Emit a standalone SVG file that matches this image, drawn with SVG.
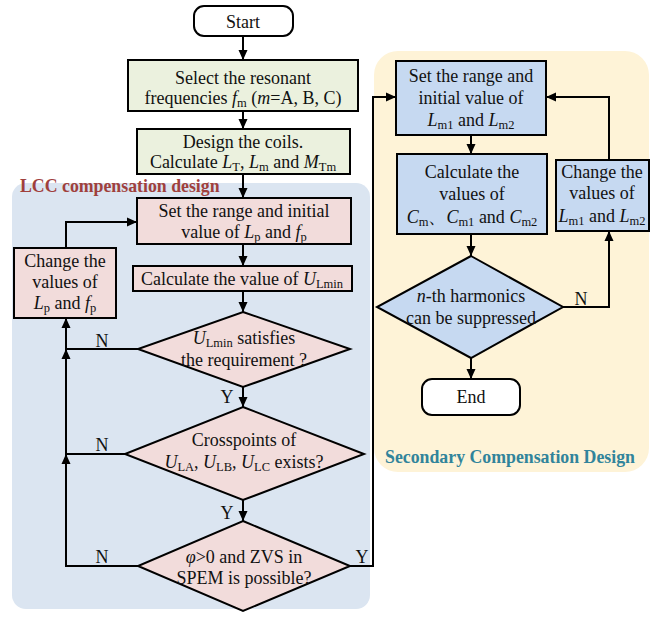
<svg xmlns="http://www.w3.org/2000/svg" width="664" height="618" viewBox="0 0 664 618">
<defs>
<marker id="ah" viewBox="0 0 10 10" refX="10" refY="5" markerWidth="10" markerHeight="10" markerUnits="userSpaceOnUse" orient="auto">
<path d="M0,0.5 L10,5 L0,9.5 Z" fill="#000"/>
</marker>
<style>
text{font-family:"Liberation Serif","Times New Roman",serif;font-size:18px;fill:#111;text-anchor:middle}
.i{font-style:italic}
.s{font-size:12.5px}
.nd{stroke:#000;stroke-width:2}
.g{fill:#ebf1de}
.p{fill:#f2dcdb}
.b{fill:#c6d9f1}
.w{fill:#fff}
.c path{fill:none;stroke:#000;stroke-width:2}
.lbl{font-weight:bold;font-size:17.8px;text-anchor:start}
</style>
</defs>
<rect width="664" height="618" fill="#fff"/>
<g id="panel-lcc">
<rect x="12" y="183" width="358" height="426" rx="14" fill="#dbe5f1"/>
<text class="lbl" x="20" y="192" style="fill:#a0403c">LCC compensation design</text>
</g>
<g id="panel-sec">
<rect x="374" y="51" width="275" height="421" rx="24" fill="#fef3d7"/>
<text class="lbl" x="385" y="463" style="fill:#31849b">Secondary Compensation Design</text>
</g>
<g class="c" id="connectors">
<path d="M243,36 V60" marker-end="url(#ah)"/>
<path d="M243,111 V129" marker-end="url(#ah)"/>
<path d="M243,174 V198" marker-end="url(#ah)"/>
<path d="M243,244 V266" marker-end="url(#ah)"/>
<path d="M243,291 V312" marker-end="url(#ah)"/>
<path d="M243,387 V407" marker-end="url(#ah)"/>
<path d="M243,500 V521" marker-end="url(#ah)"/>
<path d="M138,349 H66"/>
<path d="M125,454 H66"/>
<path d="M138,566 H66 V454" marker-end="url(#ah)"/>
<path d="M66,454 V349" marker-end="url(#ah)"/>
<path d="M66,349 V318" marker-end="url(#ah)"/>
<path d="M66,248 V222 H137" marker-end="url(#ah)"/>
<path d="M350,566 H373 V97 H396" marker-end="url(#ah)"/>
<path d="M471,135 V154" marker-end="url(#ah)"/>
<path d="M471,234 V256" marker-end="url(#ah)"/>
<path d="M471,358 V379" marker-end="url(#ah)"/>
<path d="M563,307 H609 V231" marker-end="url(#ah)"/>
<path d="M609,160 V97 H546" marker-end="url(#ah)"/>
</g>
<g id="labels">
<text x="102" y="347">N</text>
<text x="102" y="451">N</text>
<text x="102" y="563">N</text>
<text x="227" y="403">Y</text>
<text x="227" y="519">Y</text>
<text x="362" y="563">Y</text>
<text x="581" y="305">N</text>
</g>
<g id="start">
<rect class="nd w" x="194" y="6" width="99" height="30" rx="10"/>
<text x="243" y="28">Start</text>
</g>
<g id="select">
<rect class="nd g" x="128" y="60" width="230" height="51"/>
<text x="243" y="84">Select the resonant</text>
<text x="243" y="104">frequencies <tspan class="i">f</tspan><tspan class="s" dy="3">m</tspan><tspan dy="-3"> (</tspan><tspan class="i">m</tspan>=A, B, C)</text>
</g>
<g id="design">
<rect class="nd g" x="137" y="129" width="213" height="45"/>
<text x="243" y="148">Design the coils.</text>
<text x="243" y="168">Calculate <tspan class="i">L</tspan><tspan class="s" dy="3">T</tspan><tspan dy="-3">, </tspan><tspan class="i">L</tspan><tspan class="s" dy="3">m</tspan><tspan dy="-3"> and </tspan><tspan class="i">M</tspan><tspan class="s" dy="3">Tm</tspan></text>
</g>
<g id="setlp">
<rect class="nd p" x="137" y="198" width="214" height="46"/>
<text x="244" y="217">Set the range and initial</text>
<text x="244" y="238">value of <tspan class="i">L</tspan><tspan class="s" dy="3">p</tspan><tspan dy="-3"> and </tspan><tspan class="i">f</tspan><tspan class="s" dy="3">p</tspan></text>
</g>
<g id="calcu">
<rect class="nd p" x="133" y="266" width="219" height="25"/>
<text x="242" y="285">Calculate the value of <tspan class="i">U</tspan><tspan class="s" dy="3">Lmin</tspan></text>
</g>
<g id="changelp">
<rect class="nd p" x="14" y="248" width="102" height="70"/>
<text x="65" y="267">Change the</text>
<text x="65" y="288">values of</text>
<text x="65" y="309"><tspan class="i">L</tspan><tspan class="s" dy="3">p</tspan><tspan dy="-3"> and </tspan><tspan class="i">f</tspan><tspan class="s" dy="3">p</tspan></text>
</g>
<g id="d1">
<polygon class="nd p" points="243,312 350,349 243,387 138,349"/>
<text x="244" y="344"><tspan class="i">U</tspan><tspan class="s" dy="3">Lmin</tspan><tspan dy="-3"> satisfies</tspan></text>
<text x="244" y="366">the requirement ?</text>
</g>
<g id="d2">
<polygon class="nd p" points="243,407 364,454 243,500 125,454"/>
<text x="244" y="446">Crosspoints of</text>
<text x="244" y="468"><tspan class="i">U</tspan><tspan class="s" dy="3">LA</tspan><tspan dy="-3">, </tspan><tspan class="i">U</tspan><tspan class="s" dy="3">LB</tspan><tspan dy="-3">, </tspan><tspan class="i">U</tspan><tspan class="s" dy="3">LC</tspan><tspan dy="-3"> exists?</tspan></text>
</g>
<g id="d3">
<polygon class="nd p" points="243,521 350,566 243,611 138,566"/>
<text x="244" y="563"><tspan class="i">φ</tspan>&gt;0 and ZVS in</text>
<text x="244" y="584">SPEM is possible?</text>
</g>
<g id="setlm">
<rect class="nd b" x="396" y="61" width="150" height="74"/>
<text x="471" y="82">Set the range and</text>
<text x="471" y="104">initial value of</text>
<text x="471" y="126"><tspan class="i">L</tspan><tspan class="s" dy="3">m1</tspan><tspan dy="-3"> and </tspan><tspan class="i">L</tspan><tspan class="s" dy="3">m2</tspan></text>
</g>
<g id="calcc">
<rect class="nd b" x="397" y="154" width="150" height="80"/>
<text x="472" y="178">Calculate the</text>
<text x="472" y="200">values of</text>
<text x="472" y="223"><tspan class="i">C</tspan><tspan class="s" dy="3">m</tspan><tspan dy="-3">、</tspan><tspan class="i">C</tspan><tspan class="s" dy="3">m1</tspan><tspan dy="-3"> and </tspan><tspan class="i">C</tspan><tspan class="s" dy="3">m2</tspan></text>
</g>
<g id="changelm">
<rect class="nd b" x="556" y="160" width="93" height="71"/>
<text x="602" y="178">Change the</text>
<text x="602" y="199">values of</text>
<text x="602" y="222"><tspan class="i">L</tspan><tspan class="s" dy="3">m1</tspan><tspan dy="-3"> and </tspan><tspan class="i">L</tspan><tspan class="s" dy="3">m2</tspan></text>
</g>
<g id="d4">
<polygon class="nd b" points="471,256 563,307 471,358 377,307"/>
<text x="471" y="302"><tspan class="i">n</tspan>-th harmonics</text>
<text x="471" y="324">can be suppressed</text>
</g>
<g id="end">
<rect class="nd w" x="422" y="379" width="98" height="36" rx="10"/>
<text x="471" y="403">End</text>
</g>
</svg>
